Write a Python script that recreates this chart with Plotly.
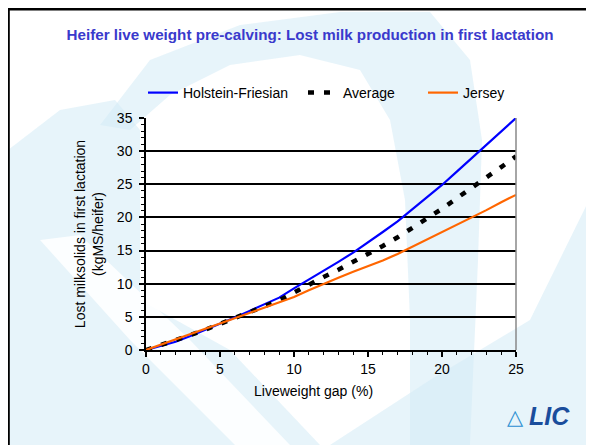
import plotly.graph_objects as go

# ---- data ----
gap_pct = list(range(0, 26))
holstein = [0, 0.6, 1.25, 2.1, 3.0, 3.9, 4.9, 5.9, 6.85, 7.9, 9.3, 10.6, 11.9, 13.3, 14.7,
            16.2, 17.8, 19.4, 21.2, 23.0, 24.9, 26.9, 28.9, 30.9, 33.0, 35.0]
average = [0, 0.7, 1.4, 2.25, 3.05, 3.9, 4.85, 5.75, 6.6, 7.5, 8.7, 9.8, 11.0, 12.1, 13.3,
           14.4, 15.7, 17.0, 18.4, 19.9, 21.3, 22.9, 24.4, 26.0, 27.6, 29.2]
jersey = [0, 0.8, 1.6, 2.4, 3.1, 3.9, 4.8, 5.6, 6.3, 7.1, 8.0, 9.0, 10.0, 10.9, 11.8,
          12.6, 13.5, 14.5, 15.6, 16.7, 17.7, 18.8, 20.0, 21.1, 22.3, 23.4]
x_ticks = [0, 5, 10, 15, 20, 25]
y_ticks = [0, 5, 10, 15, 20, 25, 30, 35]

OFF = 8                      # page offset of the figure div
W, H = 594 - OFF, 445 - OFF  # figure size
L, R, T, B = 146, 516, 118, 350   # plot area in page pixels


def px(x):
    return (x - L) / (R - L)


def py(y):
    return (B - y) / (B - T)


def path(pts):
    return "M " + " L ".join(f"{px(a):.4f},{py(b):.4f}" for a, b in pts) + " Z"


fig = go.Figure()
fig.add_trace(go.Scatter(x=gap_pct, y=holstein, mode="lines", name="Holstein-Friesian",
                         line=dict(color="#0000ff", width=2.2), legend="legend"))
fig.add_trace(go.Scatter(x=gap_pct, y=average, mode="lines", name="Average",
                         line=dict(color="#000000", width=4.5, dash="6px,10px"), legend="legend2"))
fig.add_trace(go.Scatter(x=gap_pct, y=jersey, mode="lines", name="Jersey",
                         line=dict(color="#ff6600", width=2.2), legend="legend3"))

sw = "rgba(212,235,246,0.55)"
shapes = [
    dict(type="path", path=path([(100, 125), (150, 60), (240, 25), (340, 12), (430, 12),
                                 (470, 60), (482, 140), (478, 260), (470, 445), (410, 445),
                                 (410, 320), (405, 200), (390, 120), (360, 70), (300, 55),
                                 (230, 65), (170, 95), (130, 130)])),
    dict(type="path", path=path([(8, 150), (60, 110), (115, 100), (140, 130), (140, 445),
                                 (8, 445)])),
    dict(type="path", path=path([(140, 300), (230, 350), (320, 445), (140, 445)])),
    dict(type="path", path=path([(330, 445), (430, 380), (530, 320), (594, 190), (594, 445)])),
]
for s in shapes:
    s.update(xref="paper", yref="paper", fillcolor=sw, line=dict(width=0), layer="below")
shapes.append(dict(type="path", xref="paper", yref="paper", layer="below",
                   path=path([(40, 240), (80, 235), (190, 340), (290, 445), (235, 445), (130, 340)]),
                   fillcolor="rgba(255,255,255,0.85)", line=dict(width=0)))
# page frame lines
shapes.append(dict(type="line", xref="paper", yref="paper", x0=px(8), x1=px(600), y0=py(9), y1=py(9),
                   line=dict(color="black", width=3)))
shapes.append(dict(type="line", xref="paper", yref="paper", x0=px(8.3), x1=px(8.3), y0=py(8), y1=py(450),
                   line=dict(color="black", width=3)))
# right plot border (gray)
shapes.append(dict(type="line", xref="paper", yref="paper", x0=1, x1=1, y0=0, y1=1,
                   line=dict(color="#888888", width=1.5)))

leg_common = dict(orientation="h", xanchor="left", y=py(93), yanchor="middle",
                  font=dict(size=14), bgcolor="rgba(0,0,0,0)", borderwidth=0)

fig.update_layout(
    width=W, height=H,
    margin=dict(l=L - OFF, r=W - (R - OFF), t=T - OFF, b=H - (B - OFF), pad=0),
    paper_bgcolor="white",
    plot_bgcolor="rgba(0,0,0,0)",
    font=dict(family="Liberation Sans, Arial, sans-serif", color="black", size=14),
    title=dict(text="<b>Heifer live weight pre-calving: Lost milk production in first lactation</b>",
               x=(310 - OFF) / W, xanchor="center", y=1 - (35 - OFF) / H, yanchor="middle",
               font=dict(size=15.2, color="#3a3acc")),
    showlegend=True,
    legend=dict(x=px(143), **leg_common),
    legend2=dict(x=px(303), **leg_common),
    legend3=dict(x=px(423), **leg_common),
    shapes=shapes,
    xaxis=dict(range=[0, 25], tickvals=x_ticks, ticks="outside", ticklen=5, tickwidth=1.5,
               tickcolor="black", showline=True, linecolor="black", linewidth=1.5,
               showgrid=False, zeroline=False, tickfont=dict(size=14),
               minor=dict(dtick=1, ticks="outside", ticklen=3, tickcolor="black", tickwidth=1)),
    yaxis=dict(range=[0, 35], tickvals=y_ticks, ticks="outside", ticklen=5, tickwidth=1.5,
               tickcolor="black", showline=True, linecolor="black", linewidth=1.5,
               showgrid=True, gridcolor="black", gridwidth=1.5, zeroline=False,
               tickfont=dict(size=14), ticklabelstandoff=4,
               minor=dict(dtick=1, ticks="outside", ticklen=3, tickcolor="black", tickwidth=1),
               title=dict(text="Lost milksolids in first lactation<br>(kgMS/heifer)",
                          font=dict(size=14), standoff=10)),
    annotations=[
        dict(text="Liveweight gap (%)", xref="paper", yref="paper", x=px(313), y=py(391),
             xanchor="center", yanchor="middle", showarrow=False, font=dict(size=14)),
        dict(text="<b><i>LIC</i></b>", xref="paper", yref="paper", x=px(527), y=py(416),
             xanchor="left", yanchor="middle", showarrow=False,
             font=dict(size=25, color="#1a4d9c", family="Liberation Sans, Arial")),
        dict(text="<b>△</b>", xref="paper", yref="paper", x=px(515), y=py(417),
             xanchor="center", yanchor="middle", showarrow=False,
             font=dict(size=21, color="#2b8fd2", family="DejaVu Sans")),
    ],
)

fig.write_html("out.html")
